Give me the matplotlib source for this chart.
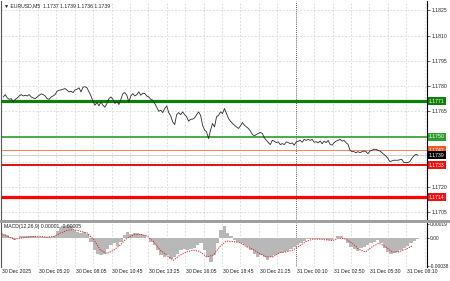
import numpy as np
import matplotlib
matplotlib.use("Agg")
import matplotlib.pyplot as plt
from matplotlib.patches import Rectangle
import matplotlib.transforms as mtrans

plt.rcParams['font.family'] = ['Liberation Sans', 'DejaVu Sans']

W, H = 450, 281

# ---------------- data ----------------
title = "EURUSD,M5  1.1737 1.1739 1.1736 1.1739"
tick_labels = ["30 Dec 2025", "30 Dec 05:20", "30 Dec 08:05", "30 Dec 10:45",
               "30 Dec 13:25", "30 Dec 16:05", "30 Dec 18:45", "30 Dec 21:25",
               "31 Dec 00:10", "31 Dec 02:50", "31 Dec 05:30", "31 Dec 08:10"]
bars_per_label = 32
day_sep_bar = 256
n_bars_axis = 370

price = [
    1.17736, 1.17750, 1.17730, 1.17722, 1.17726, 1.17706, 1.17722, 1.17730, 1.17742, 1.17750,
    1.17742, 1.17746, 1.17742, 1.17750, 1.17736, 1.17730, 1.17726, 1.17736, 1.17746, 1.17754,
    1.17750, 1.17742, 1.17726, 1.17722, 1.17736, 1.17742, 1.17750, 1.17770, 1.17776, 1.17778,
    1.17782, 1.17786, 1.17776, 1.17766, 1.17770, 1.17762, 1.17778, 1.17782, 1.17790, 1.17766,
    1.17794, 1.17797, 1.17790, 1.17766, 1.17742, 1.17710, 1.17687, 1.17703, 1.17683,
    1.17706, 1.17687, 1.17675, 1.17697, 1.17726, 1.17736, 1.17722, 1.17697, 1.17710, 1.17691,
    1.17722, 1.17756, 1.17762, 1.17746, 1.17706, 1.17742, 1.17756, 1.17742, 1.17750, 1.17766,
    1.17746, 1.17758, 1.17756, 1.17742, 1.17736, 1.17722, 1.17716, 1.17697, 1.17675, 1.17651,
    1.17657, 1.17643, 1.17667, 1.17683, 1.17643, 1.17624, 1.17588, 1.17572, 1.17631, 1.17643,
    1.17631, 1.17647, 1.17631, 1.17618, 1.17592, 1.17604, 1.17604, 1.17612, 1.17631, 1.17647,
    1.17627, 1.17568, 1.17539, 1.17529, 1.17489, 1.17539, 1.17578, 1.17558, 1.17618, 1.17627,
    1.17647, 1.17637, 1.17667, 1.17637, 1.17608, 1.17592, 1.17578, 1.17568, 1.17558, 1.17549,
    1.17564, 1.17584, 1.17568, 1.17558, 1.17549, 1.17533, 1.17513, 1.17505, 1.17513, 1.17519,
    1.17525, 1.17519, 1.17493, 1.17479, 1.17465, 1.17453, 1.17479, 1.17473, 1.17465, 1.17469,
    1.17453, 1.17459, 1.17453, 1.17469, 1.17465, 1.17459, 1.17463, 1.17450, 1.17469, 1.17473,
    1.17478, 1.17467, 1.17484, 1.17478, 1.17484, 1.17478, 1.17484, 1.17467, 1.17470, 1.17464,
    1.17474, 1.17458, 1.17474, 1.17464, 1.17478, 1.17454, 1.17450, 1.17464, 1.17474, 1.17478,
    1.17484, 1.17474, 1.17478, 1.17464, 1.17454, 1.17419, 1.17411, 1.17411, 1.17405, 1.17411,
    1.17405, 1.17411, 1.17415, 1.17411, 1.17399, 1.17415, 1.17419, 1.17425, 1.17425, 1.17419,
    1.17415, 1.17405, 1.17395, 1.17385, 1.17371, 1.17352, 1.17356, 1.17360, 1.17360, 1.17360,
    1.17363, 1.17365, 1.17346, 1.17346, 1.17346, 1.17352, 1.17371, 1.17385, 1.17395, 1.17390,
]
price_first_bar, price_last_bar = 2.0, 362.0

# MACD (units of 1e-5)
macd_hist = [
    7.1, 5.7, 4.7, 1.4, -2.4, 0, 2.3, 3.3, 3.3, 2.3, 2.3, 1.8, 1.4, 0.9, 0.9, 1.4, 2.3,
    9.4, 15.6, 17.5, 18.9, 17.5, 10.8, 8, 7.1, 8, 5.2, -4.8, -16.6, -21.3, -23.7, -21.3,
    -15.6, -9.5, -7.1, -10.9, -4.7, 4.7, 8, 5.2, 7.1, 7.1, 5.2, 4.7, 0, -4.7, -9.9, -16.6,
    -23.7, -26, -23.7, -28.4, -26, -21.3, -16.6, -15.6, -16.6, -15.6, -14.2, -9.5, -7.1,
    -16.6, -26, -33, -23.7, -7.1, 11.8, 16.6,
    7.1, 2.4, -2.4, -4.7, -7.1, -9.5, -11.8, -16.6, -21.3, -26, -23.7, -26, -30.8, -26,
    -23.7, -21.3, -20.4, -19, -17.5, -15.6, -11.8, -9.5, -7.1, -3.3, -1.4, -0.5, -0.5,
    -0.5, -1.4, -1.4, -2.4, -2.4, 0, 2.4, 2.4, -1.4, -7.1, -11.8, -15.6, -17.5, -14.2,
    -11.8, -9.5, -7.1, -4.7, -2.4, -7.1, -14.2, -19, -21.3, -20.4, -19, -16.6, -14.2,
    -10.9, -7.1, -3.3, -0.5,
]
macd_signal = [
    5.7, 2.4, -1.4, 0, 1.4, 2.4, 2.4, 1.4, 2.4, 7.1, 10.9, 11.8, 9.5, 7.1, -2.4, -16.6,
    -21.3, -16.6, -9.5, 0, 4.7, 5.2, 3.3, -4.7, -16.6, -23.7, -30.8, -23.7, -19, -16.6,
    -18.5, -26, -23.7, -11.8,
    -4.0, -4.7, -6.0, -11.8, -15.6, -21.3, -26, -26, -20.4, -19, -16.6, -10.9, -4.7,
    -1.4, -1.4, -2.4, -3.3, 0, -1.4, -7.1, -15.6, -19, -11.8, -7.1, -11.8, -19, -19,
    -15.6, -10.9,
]
macd_first_bar, macd_last_bar = 0.0, 362.0
signal_last_bar = 357.0

levels = [1.1771, 1.1750, 1.1742, 1.1739, 1.1733, 1.1714]
level_colors = ['#0a800a', '#2c9f2c', '#f4845a', '#c8c8c8', '#e01010', '#ff0000']
level_widths = [2.3, 1.2, 0.7, 0.6, 1.4, 2.3]
box_colors = ['#0a800a', '#2c9f2c', '#f25a24', '#000000', '#f01010', '#f01010']

price_ticks = [1.1705, 1.1720, 1.1735, 1.1750, 1.1765, 1.1780, 1.1795, 1.1810, 1.1825]
hidden_ticks = [1.1735, 1.1750]
macd_ticks = [-0.00038, 0.0, 0.00019]
macd_tick_labels = ["-0.00038", "0.00", "0.00019"]

# ---------------- figure ----------------
fig = plt.figure(figsize=(W / 100, H / 100), dpi=100)
fig.patch.set_facecolor('white')

def px_rect(x0, y0, x1, y1):
    return [x0 / W, 1 - y1 / H, (x1 - x0) / W, (y1 - y0) / H]

ax = fig.add_axes(px_rect(1, 0.5, 427, 220))
axm = fig.add_axes(px_rect(1, 223, 427, 267))

# gray separator band
fig.patches.append(Rectangle((0, 1 - 223 / H), 1, 3.2 / H, transform=fig.transFigure,
                             facecolor='#a0a0a0', edgecolor='none', zorder=0))

fs = 3.7
grid_kw = dict(color='#cfcfcf', lw=0.5, ls=(0, (2.5, 2.5)), zorder=0)

for a in (ax, axm):
    a.set_xlim(0, n_bars_axis)
    a.set_facecolor('white')
    for s in ('top', 'bottom'):
        a.spines[s].set_visible(False)
    a.spines['left'].set_color('#555555')
    a.spines['left'].set_linewidth(0.8)
    a.spines['right'].set_color('#000000')
    a.spines['right'].set_linewidth(0.8)
    a.tick_params(axis='x', length=0, labelbottom=False)
    a.yaxis.tick_right()
    a.tick_params(axis='y', length=2, width=0.5, labelsize=fs, pad=1.3, colors='#222222')
    for b in range(16, n_bars_axis, 16):
        if b == day_sep_bar:
            continue
        a.axvline(b, **grid_kw)
    a.axvline(day_sep_bar, color='#222222', lw=0.6, ls=(0, (1, 1.5)), zorder=1)

axm.tick_params(axis='y', length=1.5, pad=0.4, labelsize=3.5)

# ---- main price panel ----
y_top, y_bot = 1.18309, 1.17005
ax.set_ylim(y_bot, y_top)
ax.set_yticks(price_ticks)
ax.set_yticklabels(["" if t in hidden_ticks else f"{t:.4f}" for t in price_ticks])
for t in price_ticks:
    ax.axhline(t, **grid_kw)

for lv, c, lw in zip(levels, level_colors, level_widths):
    ax.axhline(lv, color=c, lw=lw, zorder=2)

pb = np.linspace(price_first_bar, price_last_bar, len(price))
ax.plot(pb, price, color='#2a2a2a', lw=0.6, zorder=3)

trans = mtrans.blended_transform_factory(ax.transAxes, ax.transData)
for lv, bc in zip(levels, box_colors):
    ax.text(1.005, lv, f"{lv:.4f}", transform=trans, fontsize=fs, color='white',
            va='center', ha='left', clip_on=False, zorder=5,
            bbox=dict(boxstyle='square,pad=0.3', fc=bc, ec='none'))

ax.text(0.006, 0.978, "\u25BC " + title, transform=ax.transAxes, fontsize=fs,
        color='#222222', va='center', ha='left')

# ---- MACD panel ----
axm.set_ylim(-0.00040, 0.00021)
axm.set_yticks(macd_ticks)
axm.set_yticklabels(macd_tick_labels)
hb = np.linspace(macd_first_bar, macd_last_bar, len(macd_hist))
hw = hb[1] - hb[0]
axm.bar(hb, np.array(macd_hist) * 1e-5, width=hw, color='#b8b8b8', edgecolor='none',
        align='center', zorder=2)
sb = np.linspace(macd_first_bar, signal_last_bar, len(macd_signal))
axm.plot(sb, np.array(macd_signal) * 1e-5, color='#e02020', lw=0.7,
         ls=(0, (1.2, 1.2)), zorder=3)
axm.text(0.006, 0.93, "MACD(12,26,9) 0.00001 -0.00005", transform=axm.transAxes,
         fontsize=fs, color='#222222', va='center', ha='left')

# x labels under MACD
for i, lab in enumerate(tick_labels):
    b = i * bars_per_label
    axm.text(b + 0.8, -0.00040 - 0.000058, lab, fontsize=fs, color='#222222',
             va='center', ha='left', clip_on=False)

fig.savefig("out.png", dpi=100, facecolor='white')
